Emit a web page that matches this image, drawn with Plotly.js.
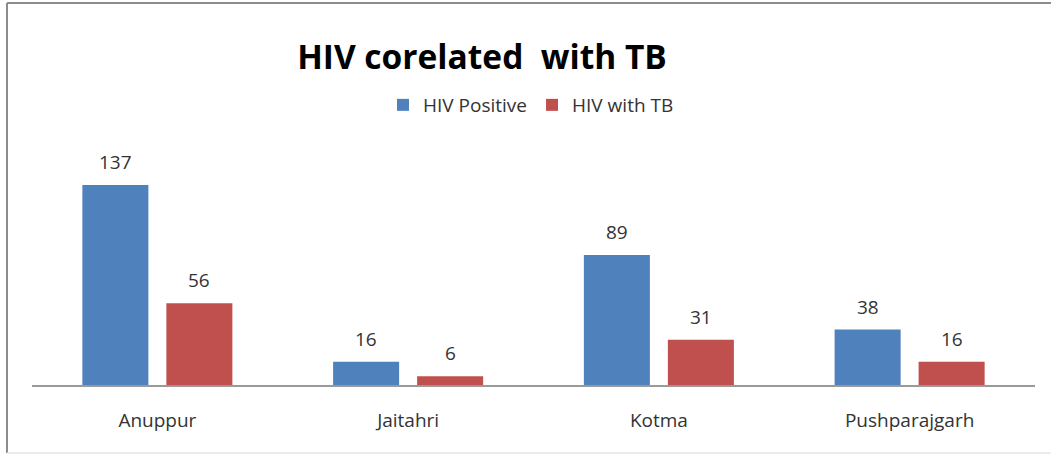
<!DOCTYPE html>
<html>
<head>
<meta charset="utf-8">
<script src="https://cdn.plot.ly/plotly-3.0.1.min.js"></script>
<style>
  html, body { margin: 0; padding: 0; background: #ffffff; }
  #chart { width: 1051px; height: 457px; }
</style>
</head>
<body>
<div id="chart"></div>
<script>
// Blocks of the district and HIV / HIV-TB counts
const blocks = ['Anuppur', 'Jaitahri', 'Kotma', 'Pushparajgarh'];
const hivPositive = [137, 16, 89, 38];
const hivWithTB = [56, 6, 31, 16];
const seriesNames = ['HIV Positive', 'HIV with TB'];
const seriesColors = ['#4F81BD', '#C0504D'];

const W = 1051, H = 457;
const margin = { l: 32, r: 16, t: 140, b: 72, pad: 0 };
const plotW = W - margin.l - margin.r;
const plotH = H - margin.t - margin.b;
const bargap = 0.33;
const bargroupgap = 0.214;
const yMax = plotH / 1.46;

const textFont = { family: 'Open Sans, sans-serif', size: 19, color: '#333333' };

const series = [hivPositive, hivWithTB];
const traces = series.map((vals, s) => ({
  type: 'bar',
  name: seriesNames[s],
  x: blocks,
  y: vals,
  marker: { color: seriesColors[s], line: { width: 0 } },
  hoverinfo: 'x+y+name'
}));

// value labels centred over each bar of a group
const catW = plotW / blocks.length;
const groupW = catW * (1 - bargap);
const annotations = [];
series.forEach((vals, s) => {
  const shift = (s - 0.5) * groupW / 2;
  vals.forEach((v, i) => {
    annotations.push({
      x: blocks[i], y: v, xref: 'x', yref: 'y',
      text: String(v), showarrow: false,
      xanchor: 'center', yanchor: 'bottom',
      xshift: shift, yshift: 8,
      font: textFont
    });
  });
});

// pixel helpers for the frame around the chart
const px2x = p => (p - margin.l) / plotW;
const py2y = p => (H - margin.b - p) / plotH;

const shapes = [
  { type: 'line', xref: 'paper', yref: 'paper', x0: px2x(7), x1: px2x(1060), y0: py2y(3), y1: py2y(3),
    line: { color: '#8c8c8c', width: 2 } },
  { type: 'line', xref: 'paper', yref: 'paper', x0: px2x(7), x1: px2x(7), y0: py2y(3), y1: py2y(453),
    line: { color: '#8c8c8c', width: 2 } },
  { type: 'line', xref: 'paper', yref: 'paper', x0: px2x(7), x1: px2x(1060), y0: py2y(453), y1: py2y(453),
    line: { color: '#e6e6e6', width: 1.5 } }
];

const layout = {
  width: W, height: H,
  margin: margin,
  paper_bgcolor: '#ffffff',
  plot_bgcolor: '#ffffff',
  barmode: 'group',
  bargap: bargap,
  bargroupgap: bargroupgap,
  title: {
    text: 'HIV corelated\u00a0 with TB',
    font: { family: 'Open Sans, sans-serif', size: 33.5, color: '#000000', weight: 'bold' },
    x: 482 / W, xanchor: 'center', xref: 'container',
    y: 1 - 57 / H, yanchor: 'middle', yref: 'container'
  },
  showlegend: true,
  legend: {
    orientation: 'h',
    xref: 'container', yref: 'container',
    x: 383 / W, xanchor: 'left',
    y: 1 - 105 / H, yanchor: 'middle',
    font: textFont,
    traceorder: 'normal',
    bgcolor: 'rgba(0,0,0,0)'
  },
  xaxis: {
    type: 'category',
    showline: true, linecolor: '#9a9a9a', linewidth: 1.5,
    showgrid: false, zeroline: false,
    ticks: '',
    ticklabelstandoff: 18,
    tickfont: textFont,
    fixedrange: true
  },
  yaxis: {
    range: [0, yMax],
    visible: false,
    showgrid: false, zeroline: false,
    fixedrange: true
  },
  annotations: annotations,
  shapes: shapes,
  font: textFont
};

Plotly.newPlot('chart', traces, layout, { displayModeBar: false, staticPlot: true });
</script>
</body>
</html>
